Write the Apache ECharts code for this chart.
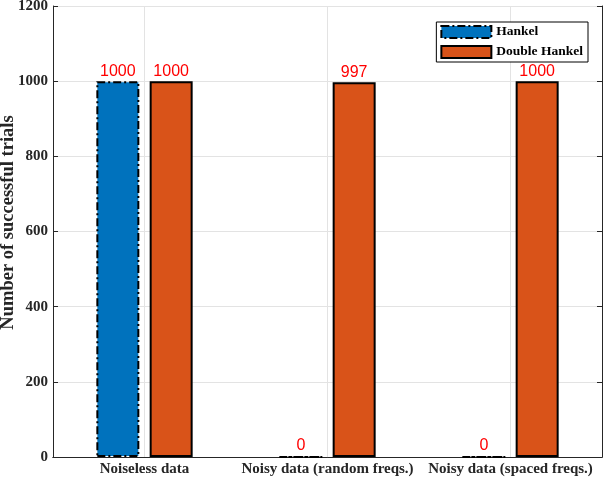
<!DOCTYPE html>
<html>
<head>
<meta charset="utf-8">
<script src="https://cdn.jsdelivr.net/npm/echarts@6/dist/echarts.min.js"></script>
<style>
  html, body { margin: 0; padding: 0; background: #fff; }
  #chart { width: 604px; height: 480px; }
</style>
</head>
<body>
<div id="chart"></div>
<script>
// data
const categories = ['Noiseless data', 'Noisy data (random freqs.)', 'Noisy data (spaced freqs.)']
const hankel = [1000, 0, 0]
const doubleHankel = [1000, 997, 1000]
const yTicks = [0, 200, 400, 600, 800, 1000, 1200]

const serif = '"Liberation Serif", "Times New Roman", serif'
const gridGray = '#e3e3e3'
const dashDot = [8, 3, 2, 3]

let myChart = echarts.init(document.getElementById('chart'))

let labelStyle = {
    show: true,
    position: 'top',
    distance: 2,
    color: '#ff0000',
    fontFamily: '"Liberation Sans", Arial, sans-serif',
    fontSize: 16
}

let option = {
    animation: false,
    backgroundColor: '#fff',
    grid: { left: 53, right: 2, top: 6, bottom: 23, show: false, outerBoundsMode: 'none', containLabel: false },
    legend: {
        right: 16,
        top: 22,
        orient: 'vertical',
        icon: 'rect',
        itemWidth: 50,
        itemHeight: 12,
        itemGap: 6,
        padding: [3, 5, 3, 4],
        borderColor: '#000',
        borderWidth: 1,
        backgroundColor: '#fff',
        textStyle: { fontFamily: serif, fontWeight: 'bold', fontSize: 13.5, color: '#000' },
        data: [
            { name: 'Hankel', itemStyle: { borderType: dashDot, borderWidth: 2, borderColor: '#000' } },
            { name: 'Double Hankel', itemStyle: { borderWidth: 2, borderColor: '#000' } }
        ]
    },
    xAxis: [{
        type: 'category',
        data: categories,
        axisLine: { lineStyle: { color: '#262626', width: 1 } },
        axisTick: { inside: true, alignWithLabel: true, length: 5, lineStyle: { color: '#262626' } },
        axisLabel: { interval: 0, fontFamily: serif, fontWeight: 'bold', fontSize: 15, color: '#262626', margin: 5 },
        splitLine: { show: true, alignWithLabel: true, lineStyle: { color: gridGray } }
    }, {
        type: 'category',
        position: 'top',
        data: categories,
        axisLine: { lineStyle: { color: '#262626', width: 1 } },
        axisTick: { inside: true, alignWithLabel: true, length: 5, lineStyle: { color: '#262626' } },
        axisLabel: { show: false },
        splitLine: { show: false }
    }],
    yAxis: [{
        type: 'value',
        min: yTicks[0],
        max: yTicks[yTicks.length - 1],
        interval: 200,
        name: 'Number of successful trials',
        nameLocation: 'middle',
        nameGap: 35,
        nameMoveOverlap: false,
        nameTextStyle: { fontFamily: serif, fontWeight: 'bold', fontSize: 18.5, color: '#262626', padding: [0, 0, 0, 18] },
        axisLine: { show: true, lineStyle: { color: '#262626', width: 1 } },
        axisTick: { show: true, inside: true, length: 5, lineStyle: { color: '#262626' } },
        axisLabel: {
            fontFamily: serif, fontWeight: 'bold', fontSize: 15, color: '#262626', margin: 5,
            formatter: function (v) { return String(v) }
        },
        splitLine: { show: true, lineStyle: { color: gridGray } }
    }, {
        type: 'value',
        position: 'right',
        min: yTicks[0],
        max: yTicks[yTicks.length - 1],
        interval: 200,
        axisLine: { show: true, lineStyle: { color: '#262626', width: 1 } },
        axisTick: { show: true, inside: true, length: 5, lineStyle: { color: '#262626' } },
        axisLabel: { show: false },
        splitLine: { show: false }
    }],
    series: [{
        name: 'Hankel',
        type: 'bar',
        data: hankel,
        barWidth: 43,
        barGap: '24%',
        itemStyle: {
            color: '#0072BD',
            borderColor: '#000',
            borderWidth: 2,
            borderType: dashDot
        },
        label: labelStyle
    }, {
        name: 'Double Hankel',
        type: 'bar',
        data: doubleHankel,
        barWidth: 43,
        barGap: '24%',
        itemStyle: {
            color: '#D95319',
            borderColor: '#000',
            borderWidth: 2
        },
        label: labelStyle
    }]
}

myChart.setOption(option)
</script>
</body>
</html>
